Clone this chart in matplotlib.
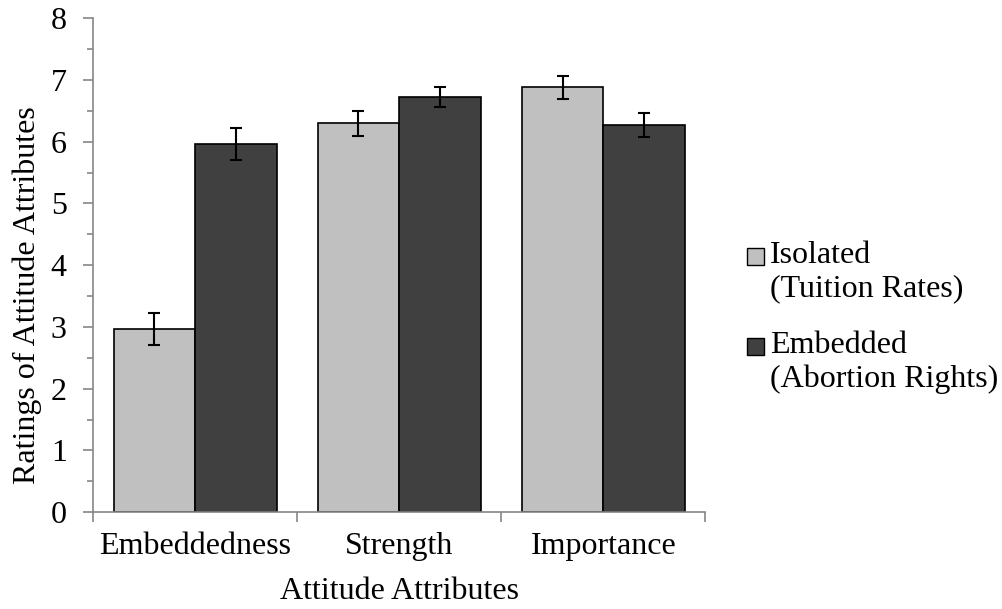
import numpy as np
import matplotlib.pyplot as plt
from matplotlib.ticker import MultipleLocator
from matplotlib.patches import Rectangle

# data
categories = ['Embeddedness', 'Strength', 'Importance']
isolated = [2.97, 6.30, 6.88]
isolated_err = [0.26, 0.20, 0.18]
embedded = [5.97, 6.72, 6.27]
embedded_err = [0.26, 0.16, 0.19]
series_names = ['Isolated\n(Tuition Rates)', 'Embedded\n(Abortion Rights)']

light = '#c0c0c0'
dark = '#404040'
axis_grey = '#868686'

plt.rcParams['font.family'] = ['Liberation Serif', 'DejaVu Serif']
fs = 23

fig = plt.figure(figsize=(10.02, 6.09), dpi=100)
ax = fig.add_axes([0.093, 0.159, 0.611, 0.811])

x = np.arange(len(categories)) + 0.5
w = 0.4
ax.bar(x - w/2, isolated, w, color=light, edgecolor='black', linewidth=1.2,
       yerr=isolated_err, capsize=4.5, error_kw=dict(elinewidth=1.5, capthick=1.5, ecolor='black'))
ax.bar(x + w/2, embedded, w, color=dark, edgecolor='black', linewidth=1.2,
       yerr=embedded_err, capsize=4.5, error_kw=dict(elinewidth=1.5, capthick=1.5, ecolor='black'))

ax.set_xlim(0, 3)
ax.set_ylim(0, 8)
ax.yaxis.set_major_locator(MultipleLocator(1))
ax.yaxis.set_minor_locator(MultipleLocator(0.5))
ax.set_xticks([0, 1, 2, 3])
ax.set_xticklabels([])
ax.set_xticks(x, minor=True)
ax.set_xticklabels(categories, minor=True, fontsize=fs)
ax.tick_params(axis='x', which='minor', length=0, pad=14)
ax.tick_params(axis='x', which='major', length=7, color=axis_grey, width=1.2)
ax.tick_params(axis='y', which='major', length=7, color=axis_grey, width=1.2, labelsize=fs, pad=12)
ax.tick_params(axis='y', which='minor', length=4, color=axis_grey, width=1.2)

for s in ['top', 'right']:
    ax.spines[s].set_visible(False)
for s in ['left', 'bottom']:
    ax.spines[s].set_color(axis_grey)
    ax.spines[s].set_linewidth(1.2)

ax.set_xlabel('Attitude Attributes', fontsize=fs, labelpad=12)
ax.set_ylabel('Ratings of Attitude Attributes', fontsize=fs, va='center')
ax.yaxis.set_label_coords(-0.108, 0.439)

# legend drawn by hand so the swatch sits on the first line
W, H = 1002, 609
for i, (name, col) in enumerate(zip(series_names, [light, dark])):
    yc = 256 + i * 90
    fig.patches.append(Rectangle((747 / W, 1 - (yc + 8.5) / H), 17 / W, 17 / H,
                                 transform=fig.transFigure, facecolor=col,
                                 edgecolor='black', linewidth=1.0))
    fig.text(770 / W, 1 - (yc - 15) / H, name, fontsize=fs, va='top', ha='left',
             linespacing=1.2)

fig.savefig('out.png', dpi=100)
